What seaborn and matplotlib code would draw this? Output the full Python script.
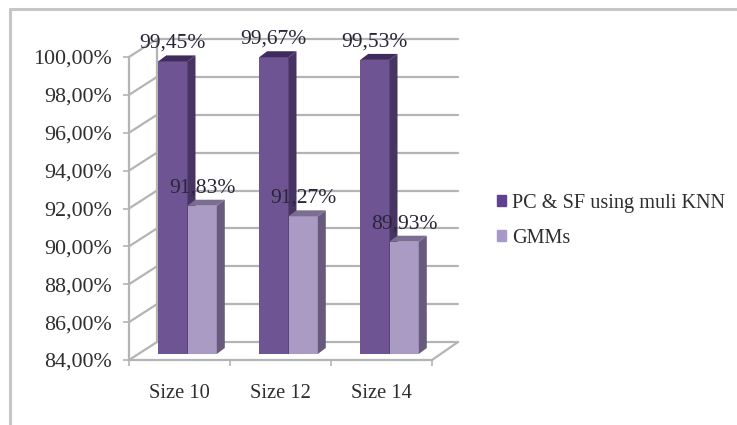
import matplotlib
matplotlib.use("Agg")
import matplotlib.pyplot as plt
import numpy as np
import pandas as pd
import seaborn as sns
from matplotlib.lines import Line2D
from matplotlib.patches import Polygon

categories = ["Size 10", "Size 12", "Size 14"]
series_names = ["PC & SF using muli KNN", "GMMs"]
pc_sf_values = [99.45, 99.67, 99.53]
gmm_values = [91.83, 91.27, 89.93]
pc_sf_labels = ["99,45%", "99,67%", "99,53%"]
gmm_labels = ["91,83%", "91,27%", "89,93%"]
y_ticks = [84, 86, 88, 90, 92, 94, 96, 98, 100]
y_tick_labels = ["84,00%", "86,00%", "88,00%", "90,00%", "92,00%",
                 "94,00%", "96,00%", "98,00%", "100,00%"]

W, H = 737, 425
GRID = "#b4b4b4"
TEXT = "#2e2e2e"
# front face, side, top of each series
colors = {
    series_names[0]: ("#6f5494", "#473463", "#3f2c5c"),
    series_names[1]: ("#a99bc3", "#675a7c", "#7c6e93"),
}

table = pd.DataFrame({
    "size": categories * 2,
    "value": pc_sf_values + gmm_values,
    "series": [series_names[0]] * 3 + [series_names[1]] * 3,
})

sns.set_theme(style="white")
plt.rcParams["font.family"] = ["Liberation Serif", "DejaVu Serif"]

fig = plt.figure(figsize=(W / 100, H / 100), dpi=100)
# axes is the front plane of the fake 3d box
ax = fig.add_axes([129 / W, 1 - 360 / H, 303 / W, 303 / H])

sns.barplot(
    data=table, x="size", y="value", hue="series", ax=ax, width=0.58,
    palette={k: v[0] for k, v in colors.items()}, saturation=1,
    linewidth=0, zorder=3,
)
ax.set_xlim(-0.5, 2.5)
ax.set_ylim(84, 100)

# one pixel in data units
px = 3 / 303
py = 16 / 303
wall_dx, wall_dy = 28 * px, 18 * py
bar_dx, bar_dy = 8 * px, 6 * py
side_dx, side_dy = 8 * px, 6 * py

line_kw = dict(color=GRID, lw=1.6, clip_on=False, zorder=1, solid_capstyle="round")
for v in y_ticks:
    ax.plot([-0.5, -0.5 + wall_dx], [v, v + wall_dy], **line_kw)
    ax.plot([-0.5 + wall_dx, 2.5 + wall_dx - 2 * px], [v + wall_dy, v + wall_dy], **line_kw)
ax.plot([-0.5 + wall_dx] * 2, [84 + wall_dy, 100 + wall_dy], **line_kw)
ax.plot([2.5, 2.5 + wall_dx - 2 * px], [84, 84 + wall_dy], **line_kw)

all_labels = [pc_sf_labels, gmm_labels]
for s, container in enumerate(ax.containers):
    face, side, top = colors[series_names[s]]
    for p, text in zip(container, all_labels[s]):
        value = p.get_height()
        x0 = p.get_x() + bar_dx
        w = p.get_width()
        y0 = 84 + bar_dy
        y1 = value + bar_dy
        p.set_x(x0)
        p.set_y(y0)
        p.set_height(y1 - y0)
        p.set_clip_on(False)
        p.set_zorder(3 + s)
        ax.add_patch(Polygon(
            [(x0 + w, y0), (x0 + w + side_dx, y0 + side_dy),
             (x0 + w + side_dx, y1 + side_dy), (x0 + w, y1)],
            facecolor=side, edgecolor="none", clip_on=False, zorder=3 + s,
        ))
        ax.add_patch(Polygon(
            [(x0, y1), (x0 + side_dx, y1 + side_dy),
             (x0 + w + side_dx, y1 + side_dy), (x0 + w, y1)],
            facecolor=top, edgecolor="none", clip_on=False, zorder=3 + s,
        ))
        ax.annotate(
            text, (x0 + w / 2, y1), xytext=(0, 13), textcoords="offset points",
            ha="center", va="center", fontsize=15.5, color="#2a2438",
            annotation_clip=False, zorder=6,
        )

sns.despine(ax=ax, left=False, bottom=False, top=True, right=True)
for name in ["left", "bottom"]:
    ax.spines[name].set_color(GRID)
    ax.spines[name].set_linewidth(1.6)
ax.set_yticks(y_ticks, y_tick_labels)
ax.set_xticks([-0.5, 0.5, 1.5, 2.5], minor=True)
ax.tick_params(axis="x", which="major", length=0, pad=17, labelsize=14.8, labelcolor=TEXT)
ax.tick_params(axis="x", which="minor", length=4, width=1.2, color=GRID, bottom=True)
ax.tick_params(axis="y", length=4, width=1.2, color=GRID, pad=8, labelsize=15.8,
               labelcolor=TEXT, left=True)
ax.set_xlabel("")
ax.set_ylabel("")
ax.patch.set_alpha(0)

handles = [plt.Rectangle((0, 0), 1, 1, color=c) for c in ("#5f4190", "#a898c8")]
ax.legend(
    handles, series_names, loc="center left", frameon=False,
    bbox_to_anchor=(497 / W, 1 - 221 / H), bbox_transform=fig.transFigure,
    fontsize=14.6, labelcolor=TEXT, handlelength=0.45, handleheight=0.45,
    handletextpad=0.3, labelspacing=0.78, borderpad=0, borderaxespad=0,
)

# outer picture frame
frame_kw = dict(color="#c6c6c6", lw=2.2, transform=fig.transFigure)
fig.add_artist(Line2D([10 / W, 10 / W], [0, 1 - 9 / H], **frame_kw))
fig.add_artist(Line2D([10 / W, 1], [1 - 9 / H, 1 - 9 / H], **frame_kw))

fig.savefig("out.png", dpi=100)
